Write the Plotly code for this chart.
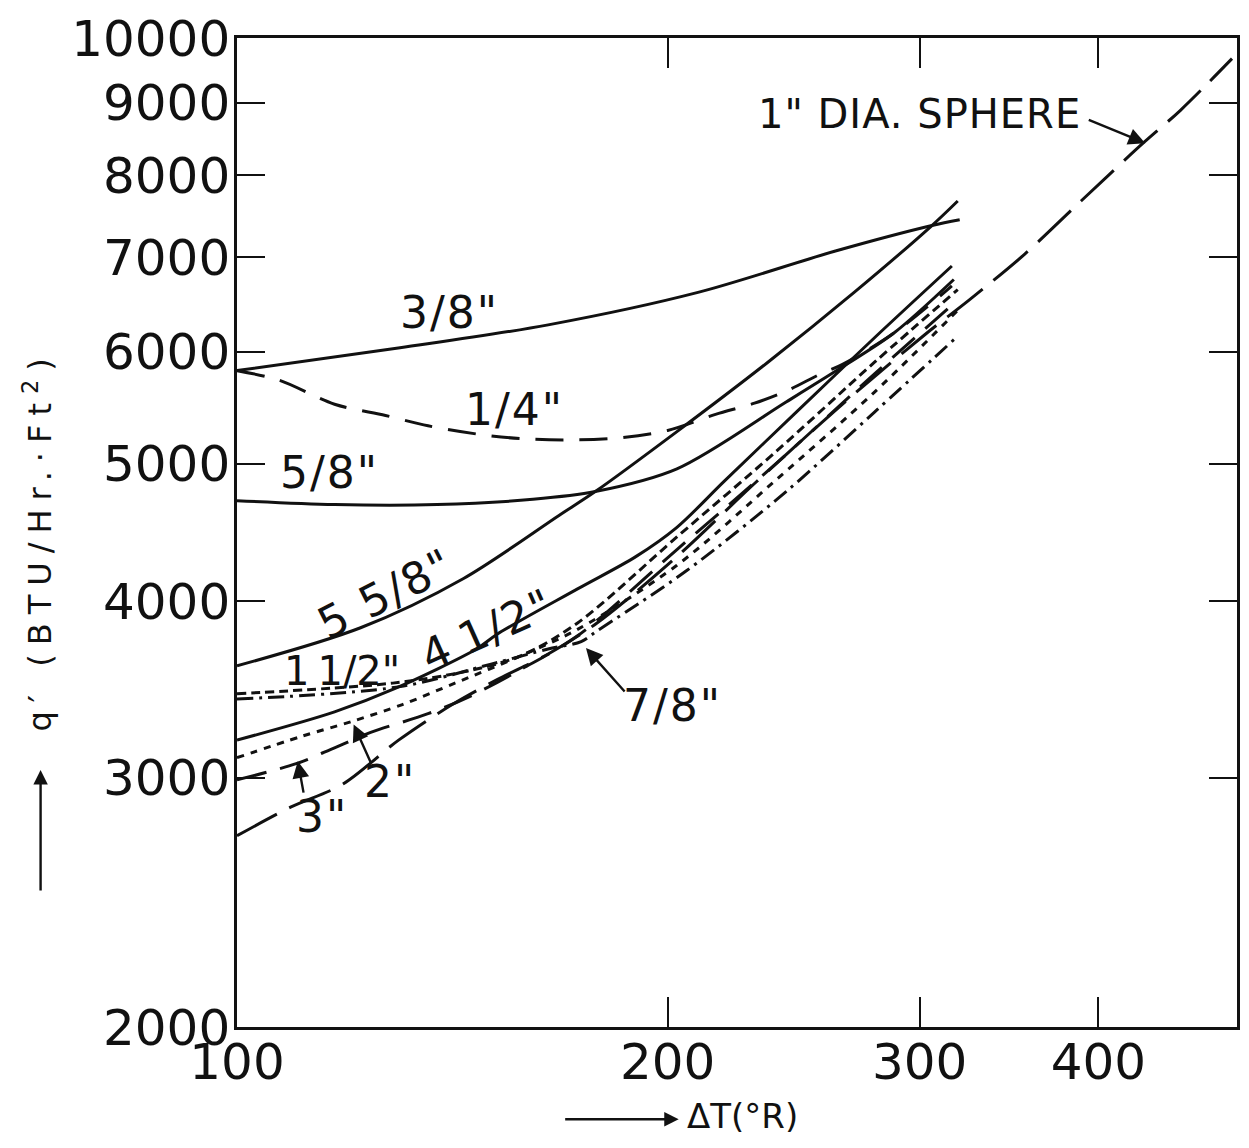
import plotly.graph_objects as go

# ---- data (ΔT in °R, q' in BTU/hr.ft^2) ----
x_3_8 = [100, 130, 165, 210, 262, 306, 320]
y_3_8 = [5820, 6040, 6270, 6610, 7070, 7370, 7440]

x_1_4 = [100, 107, 117, 127, 136, 147, 158, 173, 186, 200, 216, 230, 243, 255, 265, 288, 316]
y_1_4 = [5820, 5730, 5510, 5410, 5320, 5250, 5210, 5200, 5220, 5280, 5420, 5520, 5640, 5780, 5880, 6190, 6680]

x_5_8 = [100, 117, 138, 161, 178, 203, 242, 266, 288, 317]
y_5_8 = [4710, 4680, 4680, 4720, 4780, 4960, 5530, 5870, 6190, 6750]

x_5_5_8 = [100, 122, 144, 168, 178, 203, 235, 270, 306, 319]
y_5_5_8 = [3600, 3830, 4150, 4600, 4780, 5270, 5900, 6610, 7370, 7670]

x_4_1_2 = [100, 117, 129, 147, 152, 173, 190, 203, 219, 246, 279, 316]
y_4_1_2 = [3190, 3340, 3470, 3700, 3790, 4080, 4300, 4510, 4860, 5440, 6140, 6900]

x_1_1_2 = [100, 128.5, 145, 158, 173, 203, 238, 279, 319]
y_1_1_2 = [3440, 3500, 3570, 3660, 3860, 4440, 5100, 5900, 6640]

x_3 = [100, 110, 117, 124, 136, 145, 158, 173, 203, 238, 279, 319]
y_3 = [2990, 3070, 3150, 3230, 3330, 3420, 3580, 3780, 4350, 5000, 5790, 6530]

x_2 = [100, 111, 120.5, 130.5, 142, 158, 173, 203, 238, 279, 319]
y_2 = [3100, 3210, 3290, 3380, 3500, 3660, 3820, 4240, 4870, 5620, 6420]

x_7_8 = [100, 130, 150.5, 165, 174, 178.5, 206, 242, 279, 317]
y_7_8 = [3410, 3480, 3610, 3700, 3745, 3810, 4200, 4780, 5440, 6120]

x_sph = [100, 109, 118.6, 129.7, 141.4, 152, 165, 178.5, 203, 230.6, 266, 302.5, 325, 355, 389, 430, 456.5, 496]
y_sph = [2730, 2860, 2970, 3190, 3380, 3520, 3670, 3860, 4300, 4855, 5530, 6170, 6530, 7030, 7670, 8430, 8890, 9670]

x_ticks = [100, 200, 300, 400]
y_ticks = [2000, 3000, 4000, 5000, 6000, 7000, 8000, 9000, 10000]

FONT = "DejaVu Sans"
INK = "#111111"

series = [
    (x_3_8, y_3_8, "solid", '3/8"'),
    (x_1_4, y_1_4, "28px,16px", '1/4"'),
    (x_5_8, y_5_8, "solid", '5/8"'),
    (x_5_5_8, y_5_5_8, "solid", '5 5/8"'),
    (x_4_1_2, y_4_1_2, "solid", '4 1/2"'),
    (x_1_1_2, y_1_1_2, "9px,5px", '1 1/2"'),
    (x_3, y_3, "30px,14px", '3"'),
    (x_2, y_2, "7px,7px", '2"'),
    (x_7_8, y_7_8, "16px,6px,3px,6px", '7/8"'),
    (x_sph, y_sph, "45px,14px", '1" DIA. SPHERE'),
]

fig = go.Figure()
for xs, ys, dash, name in series:
    fig.add_trace(go.Scatter(
        x=xs, y=ys, mode="lines", name=name,
        line=dict(color=INK, width=3, dash=dash, shape="spline", smoothing=0.9),
        showlegend=False, hoverinfo="skip"))

# page has an 8px body margin; plot box in page pixels
OFF = 8
PL, PR, PT, PB = 237, 1240, 30, 1027
W, H = 1233, 1132


def px(xp):
    return (xp - PL) / (PR - PL)


def py(yp):
    return (PB - yp) / (PB - PT)


def spaced(text, sp):
    if sp <= 0:
        return text
    return '<span style="letter-spacing:%dpx">%s</span>' % (sp, text)


annotations = []


def label(text, xp, yp, size=44, angle=0, sp=2):
    annotations.append(dict(text=spaced(text, sp), x=px(xp), y=py(yp), xref="paper", yref="paper",
                            xanchor="center", yanchor="middle",
                            showarrow=False, textangle=angle,
                            font=dict(family=FONT, size=size, color=INK)))


def arrow(tipx, tipy, ax, ay, size=1.2):
    annotations.append(dict(text="", x=px(tipx), y=py(tipy), xref="paper", yref="paper",
                            showarrow=True, ax=ax, ay=ay, arrowhead=2, arrowsize=size,
                            arrowwidth=2.4, arrowcolor=INK))


label('3/8"', 450, 307)
label('1/4"', 515, 405)
label('5/8"', 330, 468)
label('5 5/8"', 386, 590, angle=-27)
label('4\u20091/2"', 488, 626, angle=-24)
label('1\u20091/2"', 342, 668, size=40, sp=0)
label('2"', 390, 780)
arrow(354, 722, 18, 40, 1.4)
label('3"', 322, 815)
arrow(298, 759, 6, 33, 1.4)
label('7/8"', 674, 703)
arrow(587, 645, 40, 45, 1.4)
label('1" DIA. SPHERE', 922, 107, size=40, sp=1)
arrow(1148, 136, -58, -24, 1.4)

# axis titles
label("q\u2032 (BTU/Hr.\u00b7Ft<sup>2</sup>)", 37, 537, size=32, angle=-90, sp=9)
arrow(40, 768, 0, 122)
label("\u0394T(\u00b0R)", 744, 1117, size=34, sp=0)
arrow(680, 1120, -115, 0)

fig.update_layout(
    width=W, height=H,
    margin=dict(l=PL - OFF, r=W - (PR - OFF), t=PT - OFF, b=H - (PB - OFF)),
    paper_bgcolor="white", plot_bgcolor="white",
    annotations=annotations,
    font=dict(family=FONT, color=INK),
)
fig.update_xaxes(
    type="log", range=[2, 2.69897], tickvals=x_ticks,
    ticktext=[str(v) for v in x_ticks],
    ticks="inside", ticklen=30, tickwidth=2, tickcolor=INK,
    showline=True, linewidth=2.5, linecolor=INK, mirror="ticks",
    showgrid=False, zeroline=False, ticklabelstandoff=-11, ticklabeloverflow="allow",
    tickfont=dict(family=FONT, size=50, color=INK))
fig.update_yaxes(
    type="log", range=[3.30103, 4], tickvals=y_ticks,
    ticktext=[str(v) for v in y_ticks],
    ticks="inside", ticklen=28, tickwidth=2, tickcolor=INK,
    showline=True, linewidth=2.5, linecolor=INK, mirror="ticks",
    showgrid=False, zeroline=False, ticklabelstandoff=-6, ticklabeloverflow="allow",
    tickfont=dict(family=FONT, size=50, color=INK))

fig.write_html("out.html")
